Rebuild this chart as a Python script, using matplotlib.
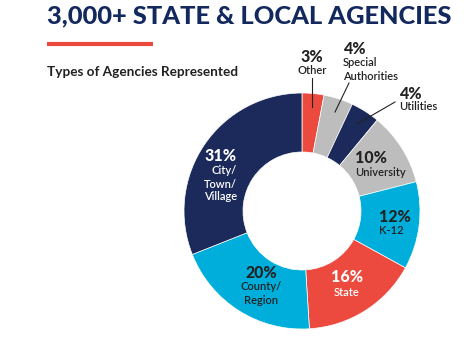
import matplotlib
matplotlib.use("Agg")
import matplotlib.pyplot as plt

categories = ["Other", "Special Authorities", "Utilities", "University", "K-12",
              "State", "County/Region", "City/Town/Village"]
values = [3, 4, 4, 10, 12, 16, 20, 31]
colors = ["#ED4A3F", "#BDBDBD", "#1B2A5A", "#BDBDBD", "#00AEDB",
          "#ED4A3F", "#00AEDB", "#1B2A5A"]

W, H = 467, 342
fig = plt.figure(figsize=(W / 100, H / 100), dpi=100)
plt.rcParams['font.family'] = ['Lato', 'DejaVu Sans']

cx, cy, R = 302, 211, 118
ax = fig.add_axes([(cx - R) / W, (H - cy - R) / H, 2 * R / W, 2 * R / H])
ax.pie(values, colors=colors, startangle=90, counterclock=False, radius=1,
       wedgeprops=dict(width=0.5, edgecolor="white", linewidth=0.5))
ax.set_xlim(-1, 1)
ax.set_ylim(-1, 1)
ax.set_aspect("equal")
ax.axis("off")

ov = fig.add_axes([0, 0, 1, 1])
ov.set_xlim(0, W)
ov.set_ylim(H, 0)
ov.axis("off")
ov.patch.set_alpha(0)

navy = "#13295E"
dark = "#222222"
ov.text(47, 16, "3,000+ STATE & LOCAL AGENCIES", fontsize=18.3, fontweight="black",
        color=navy, va="center", ha="left")
ov.plot([47, 153], [44, 44], color="#ED4A3F", lw=3, solid_capstyle="butt")
ov.text(47, 72, "Types of Agencies Represented", fontsize=9.8, fontweight="bold",
        color=dark, va="center", ha="left")

pw = dict(fontsize=11.5, fontweight="black")
nw = dict(fontsize=8, fontweight="semibold")

def label(x, ys, pct, lines, ha, col):
    ov.text(x, ys[0], pct, ha=ha, va="center", color=col, **pw)
    for y, t in zip(ys[1:], lines):
        ov.text(x, y, t, ha=ha, va="center", color=col, **nw)

label(237, [156, 171, 184, 197], "31%", ["City/", "Town/", "Village"], "right", "white")
label(355, [158, 173], "10%", ["University"], "left", dark)
label(379, [217, 231], "12%", ["K-12"], "left", dark)
label(347, [277, 292], "16%", ["State"], "center", "white")
label(261, [273, 287, 300], "20%", ["County/", "Region"], "center", dark)
label(312, [57, 71], "3%", ["Other"], "center", dark)
label(343, [49, 62, 76], "4%", ["Special", "Authorities"], "left", dark)
label(399, [94, 107], "4%", ["Utilities"], "left", dark)

ov.plot([312, 312], [78, 107], color=dark, lw=0.8)
ov.plot([349, 335], [83, 112], color=dark, lw=0.8)
ov.plot([395, 357], [102, 124], color=dark, lw=0.8)

fig.savefig("out.png", dpi=100)
